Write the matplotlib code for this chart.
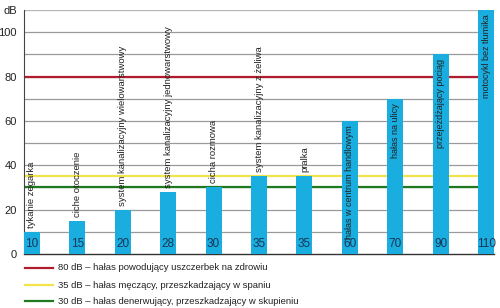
import matplotlib
matplotlib.use("Agg")
import matplotlib.pyplot as plt
from matplotlib.lines import Line2D

categories = ["tykanie zegarka", "ciche otoczenie", "system kanalizacyjny wielowarstwowy",
              "system kanalizacyjny jednowarstwowy", "cicha rozmowa",
              "system kanalizacyjny z żeliwa", "pralka", "hałas w centrum handlowym",
              "hałas na ulicy", "przejeżdżający pociąg", "motocykl bez tłumika"]
values = [10, 15, 20, 28, 30, 35, 35, 60, 70, 90, 110]
inside = [False, False, False, False, False, False, False, True, True, True, True]
thresholds = [80, 35, 30]
threshold_colors = ["#b01c2e", "#f2e34a", "#1f7a1f"]
legend_labels = ["80 dB – hałas powodujący uszczerbek na zdrowiu",
                 "35 dB – hałas męczący, przeszkadzający w spaniu",
                 "30 dB – hałas denerwujący, przeszkadzający w skupieniu"]
ytick_vals = [0, 20, 40, 60, 80, 100, 110]
ytick_labels = ["0", "20", "40", "60", "80", "100", "dB"]

FONT = ["Liberation Sans Narrow", "Liberation Sans", "DejaVu Sans"]
plt.rcParams["font.family"] = FONT

fig = plt.figure(figsize=(5.0, 3.08), dpi=100)
ax = fig.add_axes([0.048, 0.1753, 0.940, 0.792])

x = list(range(len(values)))
bw = 0.35
ax.set_xlim(-bw / 2, len(values) - 1 + bw / 2)
ax.set_ylim(0, 110)

# grid lines every 10
for g in range(10, 110, 10):
    ax.axhline(g, color="#9a9a9a", lw=0.9, zorder=1)
ax.axhline(110, color="#b4b4b4", lw=1.6, zorder=1)

for t, c in zip(thresholds, threshold_colors):
    ax.axhline(t, color=c, lw=1.6, zorder=2)

ax.bar(x, values, width=bw, color="#19ade0", zorder=3)

for xi, v, lab, ins in zip(x, values, categories, inside):
    ax.text(xi, 4.5, str(v), ha="center", va="center", fontsize=8.5,
            color="#1a3656", zorder=4)
    if ins:
        ax.text(xi, v - 2, lab, rotation=90, ha="center", va="top",
                fontsize=6.5, color="#222222", zorder=4)
    else:
        ax.text(xi, v + 1.8, lab, rotation=90, ha="center", va="bottom",
                fontsize=6.8, color="#222222", zorder=4)

ax.set_xticks([])
ax.set_yticks(ytick_vals)
ax.set_yticklabels(ytick_labels, fontsize=8, color="#222222")
ax.tick_params(axis="y", length=0, pad=5)
for s in ["top", "right"]:
    ax.spines[s].set_visible(False)
ax.spines["left"].set_color("#444444")
ax.spines["left"].set_linewidth(0.8)
ax.spines["bottom"].set_color("#333333")
ax.spines["bottom"].set_linewidth(1.0)

# legend drawn below
ys = [268, 285, 301]
for yy, c, lab in zip(ys, threshold_colors, legend_labels):
    yf = 1 - yy / 308
    fig.add_artist(Line2D([25 / 500, 53 / 500], [yf, yf], color=c, lw=1.6,
                          transform=fig.transFigure))
    fig.text(58 / 500, yf, lab, ha="left", va="center", fontsize=6.8,
             color="#222222")

fig.savefig("out.png", dpi=100)
